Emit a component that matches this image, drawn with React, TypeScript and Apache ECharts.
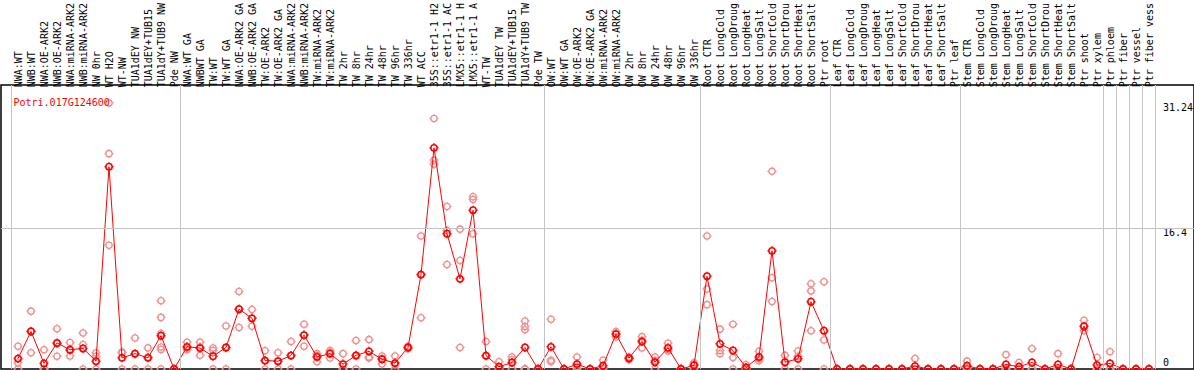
import React, { useEffect, useRef } from "react";
import * as echarts from "echarts";

const MONO = '"DejaVu Sans Mono", "Liberation Mono", monospace';

const geneName = "Potri.017G124600";

const categories = [
  "NWA:WT", "NWB:WT", "NWA:OE-ARK2", "NWB:OE-ARK2", "NWA:miRNA-ARK2", "NWB:miRNA-ARK2",
  "NW 0hr", "WT H2O", "WT-NW", "TUA1dEY NW", "TUA1dEY+TUB15", "TUA1dY+TUB9 NW", "Pde NW",
  "NWA:WT GA", "NWBWT GA", "TW:WT", "TW:WT GA", "NWA:OE-ARK2 GA", "NWB:OE-ARK2 GA",
  "TW:OE-ARK2", "TW:OE-ARK2 GA", "NWA:miRNA-ARK2", "NWB:miRNA-ARK2", "TW:miRNA-ARK2",
  "TW:miRNA-ARK2", "TW 2hr", "TW 8hr", "TW 24hr", "TW 48hr", "TW 96hr", "TW 336hr",
  "WT ACC", "35S::etr1-1 H2", "35S::etr1-1 AC", "LMX5::etr1-1 H", "LMX5::etr1-1 A",
  "WT-TW", "TUA1dEY TW", "TUA1dEY+TUB15", "TUA1dY+TUB9 TW", "Pde TW",
  "OW:WT", "OW:WT GA", "OW:OE-ARK2", "OW:OE-ARK2 GA", "OW:miRNA-ARK2", "OW:miRNA-ARK2",
  "OW 2hr", "OW 8hr", "OW 24hr", "OW 48hr", "OW 96hr", "OW 336hr",
  "Root CTR", "Root LongCold", "Root LongDroug", "Root LongHeat", "Root LongSalt",
  "Root ShortCold", "Root ShortDrou", "Root ShortHeat", "Root ShortSalt", "Ptr root",
  "Leaf CTR", "Leaf LongCold", "Leaf LongDroug", "Leaf LongHeat", "Leaf LongSalt",
  "Leaf ShortCold", "Leaf ShortDrou", "Leaf ShortHeat", "Leaf ShortSalt", "Ptr leaf",
  "Stem CTR", "Stem LongCold", "Stem LongDroug", "Stem LongHeat", "Stem LongSalt",
  "Stem ShortCold", "Stem ShortDrou", "Stem ShortHeat", "Stem ShortSalt", "Ptr shoot",
  "Ptr xylem", "Ptr phloem", "Ptr fiber", "Ptr vessel", "Ptr fiber vess",
];

// number of samples in each experiment group (separated by vertical lines)
const groupSizes = [13, 28, 12, 10, 10, 11, 1, 1, 1, 1];

const meanValues = [
  1.24, 4.45, 0.66, 3.09, 2.28, 2.44, 0.93, 23.95, 1.32, 1.82, 1.32, 3.95, 0,
  2.63, 2.48, 1.51, 2.55, 7.08, 6.0, 1.0, 0.93, 1.59, 4.02, 1.43, 1.82, 0.58,
  1.62, 2.09, 1.16, 0.7, 2.55, 11.18, 26.19, 16.02, 10.68, 18.8, 1.59, 0.27,
  0.77, 2.55, 0,
  2.63, 0, 0.58, 0, 0.39, 4.14, 1.28, 3.25, 0.81, 2.51, 0, 0.43,
  10.99, 2.98, 2.2, 0.19, 1.43, 14.0, 0.81, 1.2, 7.97, 4.53,
  0, 0, 0, 0, 0, 0, 0.35, 0, 0, 0,
  0.39, 0, 0, 0.54, 0.27, 0.77, 0, 0.54, 0, 5.07, 0.46,
  0.66, 0, 0, 0,
];

const replicateValues = [
  [2.7, 0.73, 0], [6.85, 4.5, 1.93], [2.28, 0, 0], [4.76, 3.0, 1.51], [3.13, 2.2, 1.55],
  [4.26, 2.9, 0], [1.9, 1.5, 0], [31.5, 25.5, 14.66], [2.0, 1.9, 0], [3.68, 1.8, 0],
  [2.5, 1.4, 0], [8.08, 6.11, 4.2, 2.6, 2.3, 0], [0, 0, 0],
  [3.17, 2.5, 2.28], [3.17, 2.6, 1.62], [2.48, 2.2, 0], [5.1, 2.5, 0], [9.17, 7.1, 4.91],
  [7.04, 6.0, 5.07], [2.17, 1.0, 0], [1.93, 0.9, 0], [3.25, 1.6, 0], [5.3, 4.0, 2.7],
  [1.82, 1.6, 0.85], [2.2, 2.0, 1.3], [1.82, 0, 0], [3.37, 1.5, 0], [3.48, 1.43, 1.3],
  [1.55, 1.2, 0.58], [1.55, 0.5, 0], [2.7, 2.5, 2.4], [15.74, 11.2, 6.07],
  [29.67, 24.72, 24.25], [19.23, 16.4, 12.38], [16.56, 12.84, 2.55], [20.39, 20.08, 16.02],
  [3.25, 1.5, 0], [0.85, 0, 0], [1.43, 1.1, 0], [5.69, 5.03, 4.64, 0, 0, 0], [0, 0, 0],
  [5.88, 1.04, 0.85], [0, 0, 0], [1.43, 0.3, 0], [0, 0, 0], [1.04, 0.15, 0],
  [4.45, 4.14, 3.8], [1.43, 1.28, 1.1], [3.83, 3.4, 2.48], [1.43, 1.0, 0], [3.06, 2.3, 2.13],
  [0, 0, 0], [0.73, 0.55, 0],
  [15.74, 9.48, 7.62], [4.72, 2.2, 1.82], [5.3, 1.35, 0], [0.5, 0, 0], [2.09, 1.2, 0.97],
  [23.4, 10.8, 8.0], [1.62, 0.8, 0], [2.13, 1.5, 0], [10.1, 9.25, 4.53], [10.33, 3.44, 0],
  [0, 0, 0], [0, 0, 0], [0, 0, 0], [0, 0, 0], [0, 0, 0], [0, 0, 0], [1.24, 0, 0],
  [0, 0, 0], [0, 0, 0], [0, 0, 0],
  [0.93, 0.25, 0], [0, 0, 0], [0, 0, 0], [1.7, 0, 0], [0.77, 0, 0], [2.4, 0, 0], [0, 0, 0],
  [1.82, 0, 0], [0, 0, 0], [5.76, 5.0, 4.53], [1.35, 0, 0],
  [2.05, 0, 0], [0, 0, 0], [0, 0, 0], [0, 0, 0],
];

const yTickValues = [0, 16.4, 31.24];
const yMax = 33;

const MARKER =
  "path://M5,1.8A3.2,3.2,0,1,1,5,8.2A3.2,3.2,0,1,1,5,1.8ZM5,0.4L5,1.8M5,8.2L5,9.6M0.4,5L1.8,5M8.2,5L9.6,5";

export default function App() {
  const ref = useRef<HTMLDivElement>(null);

  useEffect(() => {
    const chart = echarts.init(ref.current!, null, { renderer: "svg" });

    const W = 1194;
    const band = 13;
    const gridLeft = 11.5;
    const gridRight = W - (gridLeft + band * categories.length);
    // full-width frame grid, value x-axis measured in category units
    const frameMin = -(gridLeft - 1 + band / 2) / band;
    const frameMax = frameMin + (W - 1) / band;

    const boundaries: number[] = [-0.5];
    let acc = 0;
    groupSizes.forEach((n) => {
      acc += n;
      boundaries.push(acc - 0.5);
    });

    const repData: number[][] = [];
    replicateValues.forEach((reps, i) => reps.forEach((v) => repData.push([i, v])));

    chart.setOption({
      animation: false,
      backgroundColor: "#ffffff",
      title: {
        text: geneName,
        left: 8.5,
        top: 92,
        textStyle: { color: "#ff0000", fontFamily: MONO, fontSize: 10, fontWeight: "normal" },
      },
      grid: [
        { left: 1, right: 0, top: 85, bottom: 1, show: true, borderColor: "#000", borderWidth: 1.5, backgroundColor: "transparent" },
        { left: gridLeft, right: gridRight, top: 85, bottom: 1 },
      ],
      xAxis: [
        { gridIndex: 0, type: "value", min: frameMin, max: frameMax, show: false },
        {
          gridIndex: 1,
          type: "category",
          data: categories,
          position: "top",
          boundaryGap: true,
          axisLine: { show: false },
          axisTick: { show: false },
          splitLine: { show: false },
          axisLabel: { rotate: 90, interval: 0, fontFamily: MONO, fontSize: 10, color: "#000", margin: 3 },
        },
      ],
      yAxis: [
        { gridIndex: 0, type: "value", min: 0, max: yMax, show: false },
        { gridIndex: 1, type: "value", min: 0, max: yMax, show: false },
      ],
      series: [
        {
          type: "line",
          xAxisIndex: 0,
          yAxisIndex: 0,
          data: [],
          z: 1,
          silent: true,
          markLine: {
            silent: true,
            symbol: ["none", "none"],
            label: { show: false },
            emphasis: { disabled: true },
            lineStyle: { color: "#c4c4c4", width: 1, type: "solid" },
            data: [...boundaries.map((b) => ({ xAxis: b })), { yAxis: yTickValues[1] }],
          },
        },
        {
          type: "scatter",
          xAxisIndex: 1,
          yAxisIndex: 1,
          data: repData,
          symbol: MARKER,
          symbolSize: 9,
          z: 3,
          itemStyle: { color: "rgba(0,0,0,0)", borderColor: "#ee9090", borderWidth: 1.3, opacity: 1 },
        },
        {
          type: "line",
          xAxisIndex: 1,
          yAxisIndex: 1,
          data: meanValues,
          symbol: MARKER,
          symbolSize: 9,
          showAllSymbol: true,
          z: 4,
          lineStyle: { color: "#ff0000", width: 1 },
          itemStyle: { color: "rgba(0,0,0,0)", borderColor: "#ff0000", borderWidth: 1.5 },
        },
      ],
    });

    const yPix = (v: number) => chart.convertToPixel({ yAxisIndex: 0 }, v) as number;
    const offsets = [-7, 4.5, 7];
    chart.setOption({
      graphic: yTickValues.map((v, i) => ({
        type: "text",
        x: 1163,
        y: yPix(v) + offsets[i],
        silent: true,
        style: {
          text: String(v),
          fill: "#000",
          fontFamily: MONO,
          fontSize: 10,
          verticalAlign: "middle",
          align: "left",
        },
      })),
    });

    return () => chart.dispose();
  }, []);

  return (
    <div
      ref={ref}
      style={{ position: "fixed", left: 0, top: 0, width: 1194, height: 370 }}
    />
  );
}
